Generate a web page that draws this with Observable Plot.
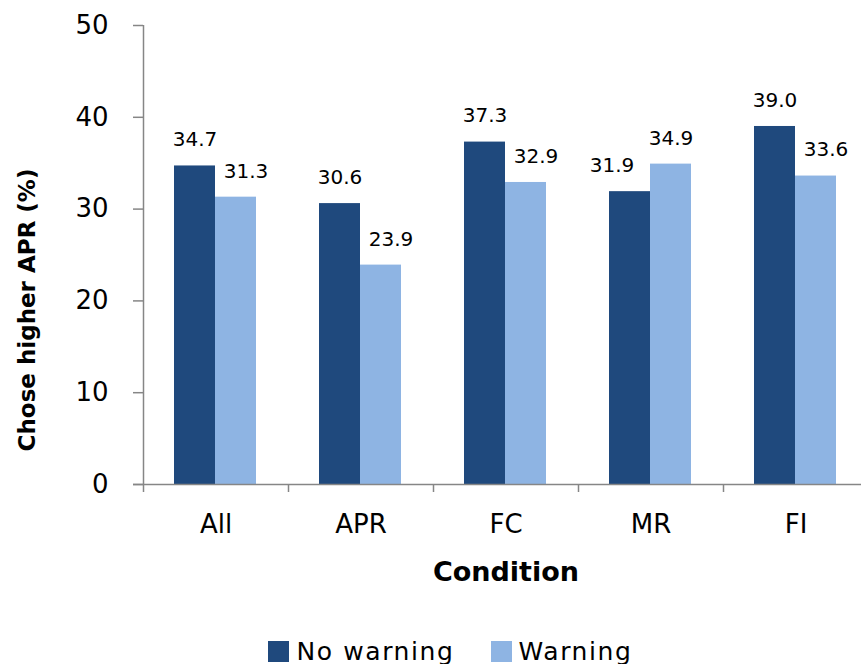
<!DOCTYPE html>
<html>
<head>
<meta charset="utf-8">
<script src="https://cdn.jsdelivr.net/npm/d3@7"></script>
<script src="https://cdn.jsdelivr.net/npm/@observablehq/plot@0.6"></script>
<style>
  html, body { margin: 0; padding: 0; background: #fff; overflow: hidden; }
  #chart svg { display: block; max-width: none !important; }
  .legend { display: flex; justify-content: center; align-items: center; padding-left: 40px; height: 30px;
    font-family: "DejaVu Sans", sans-serif; font-size: 25px; letter-spacing: 1.6px; color: #000; width: 861px; box-sizing: border-box; }
  .legend .item { display: flex; align-items: center; margin: 0 18px; }
  .legend .sw { width: 21px; height: 21px; margin-right: 7px; }
</style>
</head>
<body>
<div id="chart"></div>
<div class="legend" id="legend"></div>
<script>
const categories = ["All", "APR", "FC", "MR", "FI"];
const noWarning = [34.7, 30.6, 37.3, 31.9, 39.0];
const warning = [31.3, 23.9, 32.9, 34.9, 33.6];
const seriesNames = ["No warning", "Warning"];
const seriesColors = ["#1F497D", "#8EB4E3"];
const yTicks = [0, 10, 20, 30, 40, 50];

const rows = [];
categories.forEach((c, i) => {
  rows.push({cat: c, series: seriesNames[0], value: noWarning[i], other: warning[i]});
  rows.push({cat: c, series: seriesNames[1], value: warning[i], other: noWarning[i]});
});
const darkRows = rows.filter(d => d.series === seriesNames[0]);
const lightRows = rows.filter(d => d.series === seriesNames[1]);

const W = 868, ML = 143;
const band = (W - ML) / categories.length;
const axisColor = "#868686";
const font = "DejaVu Sans";

const chart = Plot.plot({
  width: W,
  height: 636,
  marginLeft: ML,
  marginRight: 0,
  marginTop: 25,
  marginBottom: 152,
  style: {fontFamily: font, background: "#fff", overflow: "visible", maxWidth: "none"},
  x: {domain: categories, padding: 0, axis: null},
  y: {domain: [0, 50], axis: null},
  marks: [
    Plot.barY(darkRows, {x: "cat", y: "value", fill: seriesColors[0], insetLeft: 31, insetRight: 73}),
    Plot.barY(lightRows, {x: "cat", y: "value", fill: seriesColors[1], insetLeft: 72, insetRight: 32}),
    Plot.ruleY([0], {stroke: axisColor, strokeWidth: 1.5, insetLeft: -10}),
    Plot.ruleX([categories[0]], {x: d => d, y1: 0, y2: 50, insetTop: 8, dx: -band / 2, stroke: axisColor, strokeWidth: 1.5}),
    Plot.ruleX(categories.slice(1), {x: d => d, y1: 0, y2: 0, insetTop: 8, dx: -band / 2, stroke: axisColor, strokeWidth: 1.5}),
    Plot.axisY({ticks: yTicks, tickSize: 10, tickPadding: 25, fontSize: 26, stroke: axisColor, strokeWidth: 1.5, fill: "#000", label: null}),
    Plot.axisX({tickSize: 0, tickPadding: 30, fontSize: 26, fill: "#000", label: null}),
    Plot.text(darkRows.filter(d => d.value >= d.other), {x: "cat", y: "value", text: d => d.value.toFixed(1), fontSize: 20, fill: "#000",
      dx: -21, dy: -26, lineAnchor: "middle"}),
    Plot.text(darkRows.filter(d => d.value < d.other), {x: "cat", y: "value", text: d => d.value.toFixed(1), fontSize: 20, fill: "#000",
      dx: -39, dy: -26, lineAnchor: "middle"}),
    Plot.text(lightRows.filter(d => d.value < d.other), {x: "cat", y: "value", text: d => d.value.toFixed(1), fontSize: 20, fill: "#000",
      dx: 30, dy: -26, lineAnchor: "middle"}),
    Plot.text(lightRows.filter(d => d.value >= d.other), {x: "cat", y: "value", text: d => d.value.toFixed(1), fontSize: 20, fill: "#000",
      dx: 20, dy: -26, lineAnchor: "middle"}),
    Plot.text(["Condition"], {frameAnchor: "bottom", dy: 88, text: d => d, fontSize: 27, fontWeight: "bold", fill: "#000", lineAnchor: "middle"}),
    Plot.text(["Chose higher APR (%)"], {frameAnchor: "left", dx: -116, dy: 55, rotate: -90, textAnchor: "middle", text: d => d, fontSize: 23, fontWeight: "bold", fill: "#000", lineAnchor: "middle"})
  ]
});
document.getElementById("chart").appendChild(chart);

const legend = document.getElementById("legend");
seriesNames.forEach((name, i) => {
  const item = document.createElement("div");
  item.className = "item";
  const sw = document.createElement("span");
  sw.className = "sw";
  sw.style.background = seriesColors[i];
  const label = document.createElement("span");
  label.textContent = name;
  item.appendChild(sw);
  item.appendChild(label);
  legend.appendChild(item);
});
</script>
</body>
</html>
